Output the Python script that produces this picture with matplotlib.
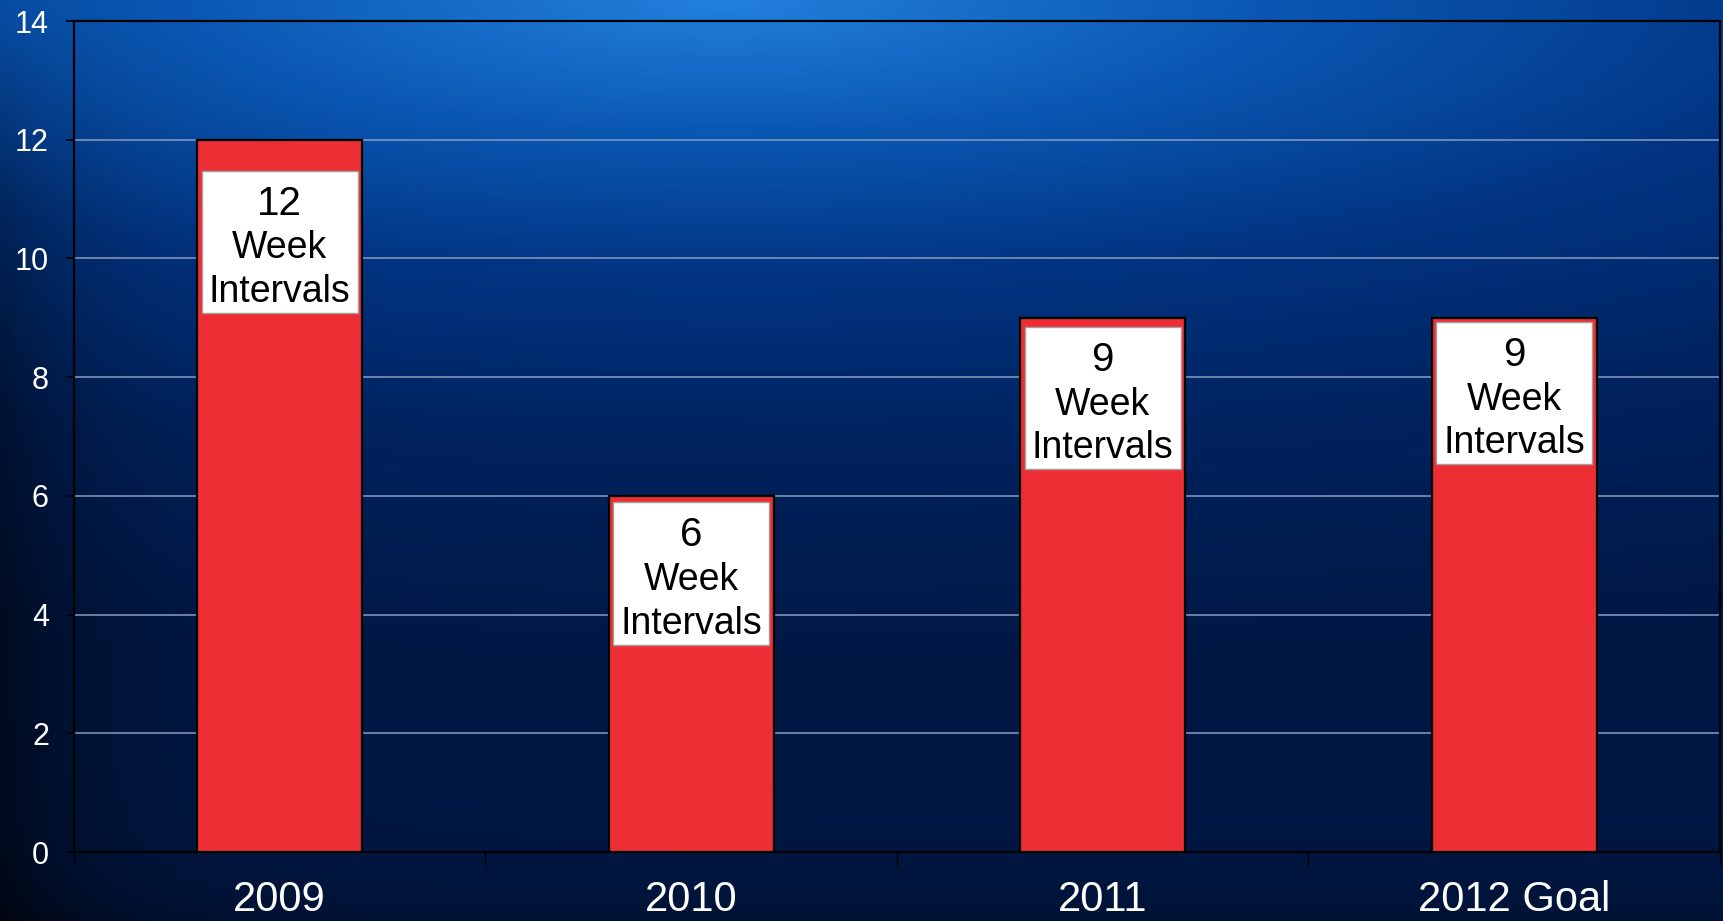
import numpy as np
import matplotlib.pyplot as plt
from matplotlib.colors import LinearSegmentedColormap
from matplotlib.patches import Rectangle

plt.rcParams['font.family'] = ['Liberation Sans', 'DejaVu Sans']

# Interval lengths per year
years = ["2009", "2010", "2011", "2012 Goal"]
weeks = [12, 6, 9, 9]
box_lines = ["Week", "Intervals"]

# how far below each bar top the white label box starts
label_drop = [0.52, 0.11, 0.15, 0.07]
box_w, box_h = 0.38, 2.4

fig = plt.figure(figsize=(17.24, 9.21), dpi=100)

# blue backdrop, bright near the top, dark toward the edges
bg = fig.add_axes([0, 0, 1, 1], zorder=-1)
h, w = 460, 862
xx, yy = np.meshgrid(np.linspace(0, 1, w), np.linspace(1, 0, h))
t = np.sqrt(((xx - 0.42) / 1.2) ** 2 + ((1 - yy) / 0.55) ** 2)
t = np.clip(t / 1.3, 0, 1)
cmap = LinearSegmentedColormap.from_list(
    "bg", [(0, "#2280dc"), (0.2, "#0a58b4"), (0.42, "#023482"),
           (0.68, "#00225e"), (1.0, "#001845")])
rgb = cmap(t)[..., :3]
edge = 1 - 0.55 * np.exp(-xx / 0.06) * (1 - yy ** 3) - 0.25 * np.exp(-yy / 0.05)
rgb = rgb * edge[..., None]
bg.imshow(rgb, aspect="auto", extent=[0, 1, 0, 1], interpolation="bilinear")
bg.set_axis_off()

ax = fig.add_axes([74 / 1724, 69 / 921, 1646 / 1724, 831 / 921])
ax.set_facecolor("none")

x = np.arange(len(years))
ax.bar(x, weeks, width=0.4, color="#ee2e35", edgecolor="black", linewidth=1.6, zorder=3)

# white label box inside each bar: value on top, then "Week Intervals"
for xi, v, d in zip(x, weeks, label_drop):
    top = v - d
    ax.add_patch(Rectangle((xi - box_w / 2, top - box_h), box_w, box_h,
                           facecolor="white", edgecolor="#a0a0a0", linewidth=1, zorder=4))
    ax.text(xi, top - 0.74, str(v), ha="center", va="baseline", fontsize=29,
            color="black", zorder=5)
    for k, line in enumerate(box_lines):
        ax.text(xi, top - 1.48 - 0.73 * k, line, ha="center", va="baseline",
                fontsize=27, color="black", zorder=5)

ax.set_xlim(-0.5, 3.5)
ax.set_ylim(0, 14)
ax.set_yticks(range(0, 15, 2))
ax.yaxis.grid(True, color="#8a9cc0", linewidth=1.1, zorder=0)
ax.set_axisbelow(True)

ax.set_xticks(x)
ax.set_xticklabels(years)
ax.set_xticks(np.arange(-0.5, 4, 1), minor=True)
ax.tick_params(axis="x", which="major", length=0, pad=20, labelsize=30, colors="white")
ax.tick_params(axis="x", which="minor", length=10, width=1, color="black")
ax.tick_params(axis="y", length=6, width=1.2, color="black", pad=12,
               labelsize=22, labelcolor="white")

for sp in ax.spines.values():
    sp.set_color("black")
    sp.set_linewidth(1.6)

fig.savefig("out.png", dpi=100)
